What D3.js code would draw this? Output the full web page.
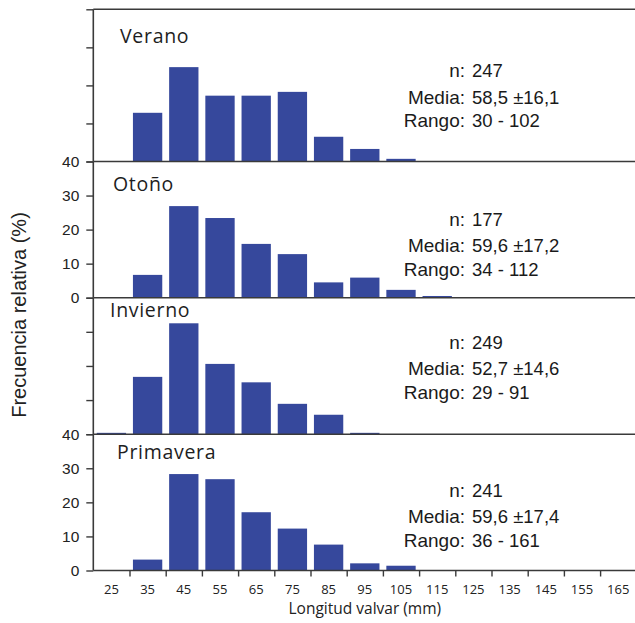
<!DOCTYPE html>
<html>
<head>
<meta charset="utf-8">
<script src="https://cdn.jsdelivr.net/npm/d3@7"></script>
<style>
  html, body { margin: 0; padding: 0; background: #fff; }
  svg { display: block; }
</style>
</head>
<body>
<svg id="chart" width="635" height="623"></svg>
<script>
// Size classes (mm, class mid-point) and relative frequency (%) per season
const bins = ["25", "35", "45", "55", "65", "75", "85", "95", "105", "115", "125", "135", "145", "155", "165"];
const seasons = ["Verano", "Otoño", "Invierno", "Primavera"];

const verano    = [0,   12.8, 24.8, 17.3, 17.3, 18.3, 6.5, 3.3, 0.7, 0,   0, 0, 0, 0, 0];
const otono     = [0,   6.7,  26.9, 23.4, 15.8, 12.8, 4.5, 5.9, 2.3, 0.5, 0, 0, 0, 0, 0];
const invierno  = [0.4, 16.8, 32.5, 20.6, 15.2, 8.9,  5.7, 0.4, 0,   0,   0, 0, 0, 0, 0];
const primavera = [0,   3.2,  28.3, 26.8, 17.1, 12.3, 7.6, 2.1, 1.4, 0,   0, 0, 0, 0, 0];

// Summary statistics per season
const statN     = ["247", "177", "249", "241"];
const statMedia = ["58,5 ±16,1", "59,6 ±17,2", "52,7 ±14,6", "59,6 ±17,4"];
const statRango = ["30 - 102", "34 - 112", "29 - 91", "36 - 161"];

const yTicks = [0, 10, 20, 30, 40];

const series = [verano, otono, invierno, primavera];

// Panel geometry
const svg = d3.select("#chart");
const axisX0 = 93.3, axisX1 = 636.3;
const panelTop = [9.3, 161.5, 297.7, 434.2];
const panelBot = [161.5, 297.7, 434.2, 570.5];
const showYLabels = [false, true, false, true];
const titleX = [120, 113, 110, 117];
const titleDy = [34, 29.5, 19.5, 24.5];
const statDy = [68, 64, 51, 62.5];

const lineColor = "#3a3a3a";
const barColor = "#36489c";

const x = d3.scaleBand().domain(bins).range([axisX0, axisX1]).paddingInner(0.19).paddingOuter(0.095);
// bin boundaries for tick marks
const xEdge = d3.scaleLinear().domain([20, 170]).range([axisX0, axisX1]);

seasons.forEach((name, i) => {
  const top = panelTop[i], bot = panelBot[i];
  const y = d3.scaleLinear().domain([0, 40]).range([bot, top]);
  const g = svg.append("g");

  // bars
  g.selectAll("rect")
    .data(series[i].map((v, j) => ({ bin: bins[j], v })).filter(d => d.v > 0))
    .join("rect")
    .attr("x", d => x(d.bin))
    .attr("width", x.bandwidth())
    .attr("y", d => y(d.v))
    .attr("height", d => y(0) - y(d.v))
    .attr("fill", barColor);

  // y axis
  const ya = g.append("g")
    .attr("transform", `translate(${axisX0},0)`)
    .call(d3.axisLeft(y).tickValues(yTicks).tickSize(7).tickPadding(7).tickFormat(showYLabels[i] ? d3.format("d") : () => ""));
  ya.select(".domain").remove();
  ya.selectAll("line").attr("stroke", lineColor).attr("stroke-width", 1.4);
  ya.selectAll("text")
    .attr("font-family", "'Liberation Sans', Arial, sans-serif")
    .attr("font-size", 15.5)
    .attr("fill", "#222");

  g.append("line")
    .attr("x1", axisX0).attr("x2", axisX0)
    .attr("y1", top).attr("y2", bot)
    .attr("stroke", lineColor).attr("stroke-width", 1.6);

  // baseline
  g.append("line")
    .attr("x1", axisX0).attr("x2", 640)
    .attr("y1", bot).attr("y2", bot)
    .attr("stroke", lineColor).attr("stroke-width", 1.6);

  // title
  g.append("text")
    .attr("x", titleX[i]).attr("y", top + titleDy[i])
    .attr("font-family", "'Open Sans', sans-serif")
    .attr("font-size", 19.5)
    .attr("letter-spacing", 0.7)
    .attr("fill", "#1e1e1e")
    .text(name);

  // stats block
  const labels = ["n:", "Media:", "Rango:"];
  const values = [statN[i], statMedia[i], statRango[i]];
  const gaps = [0, 26.5, 50];
  labels.forEach((lab, k) => {
    const ty = top + statDy[i] + gaps[k];
    g.append("text")
      .attr("x", 465).attr("y", ty)
      .attr("text-anchor", "end")
      .attr("font-family", "'Liberation Sans', Arial, sans-serif")
      .attr("font-size", 19)
      .attr("fill", "#1a1a1a")
      .text(lab);
    g.append("text")
      .attr("x", 472).attr("y", ty)
      .attr("font-family", "'Liberation Sans', Arial, sans-serif")
      .attr("font-size", 18.5)
      .attr("fill", "#1a1a1a")
      .text(values[k]);
  });
});

// top border of first panel
svg.append("line")
  .attr("x1", axisX0).attr("x2", 640)
  .attr("y1", panelTop[0]).attr("y2", panelTop[0])
  .attr("stroke", lineColor).attr("stroke-width", 1.6);

// x axis: tick marks at class boundaries, labels at class mid-points
const bottom = panelBot[3];
const xt = svg.append("g")
  .attr("transform", `translate(0,${bottom})`)
  .call(d3.axisBottom(xEdge).tickValues(d3.range(30, 171, 10)).tickSize(6).tickFormat(() => ""));
xt.select(".domain").remove();
xt.selectAll("line").attr("stroke", lineColor).attr("stroke-width", 1.4);

const xl = svg.append("g")
  .attr("transform", `translate(0,${bottom})`)
  .call(d3.axisBottom(x).tickSize(0).tickPadding(14));
xl.select(".domain").remove();
xl.selectAll("text")
  .attr("font-family", "'Open Sans', sans-serif")
  .attr("font-size", 13)
  .attr("fill", "#222");

// axis titles
svg.append("text")
  .attr("x", (axisX0 + axisX1) / 2).attr("y", 614)
  .attr("text-anchor", "middle")
  .attr("font-family", "'Open Sans', sans-serif")
  .attr("font-size", 15.5)
  .attr("fill", "#222")
  .text("Longitud valvar (mm)");

svg.append("text")
  .attr("transform", "translate(26,315) rotate(-90)")
  .attr("text-anchor", "middle")
  .attr("font-family", "'Liberation Sans', Arial, sans-serif")
  .attr("font-size", 20)
  .attr("fill", "#222")
  .text("Frecuencia relativa (%)");
</script>
</body>
</html>
